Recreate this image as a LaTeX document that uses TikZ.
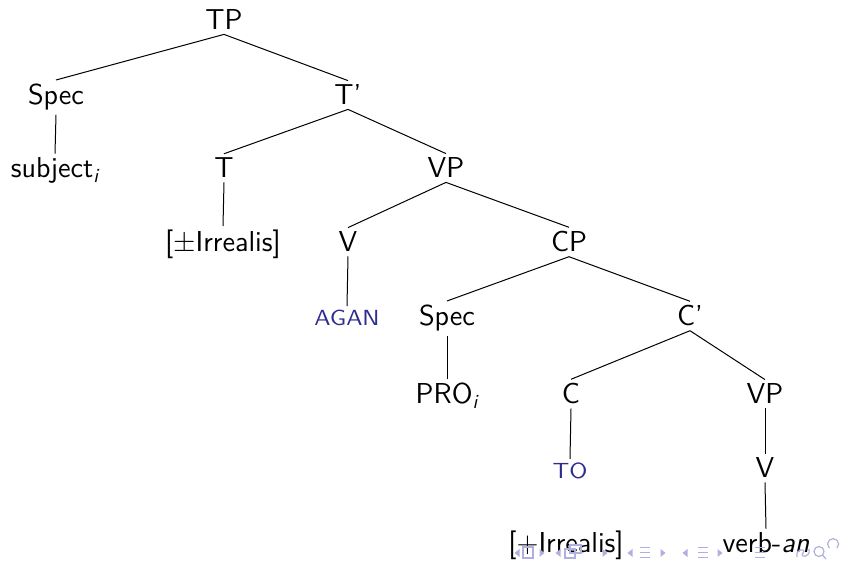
\documentclass[tikz,border=0pt]{standalone}
\usepackage{graphicx}
\definecolor{navcol}{RGB}{176,176,224}
\definecolor{structblue}{RGB}{45,45,145}
\begin{document}
\begin{tikzpicture}[x=0.5pt,y=-0.5pt,
  every node/.style={font=\fontsize{14.4}{17}\selectfont\sffamily, inner sep=2pt, anchor=base},
  edge/.style={line width=0.5pt},
  smallcap/.style={text=structblue},
  navfill/.style={fill=navcol, draw=none},
  navline/.style={draw=navcol, line width=0.6pt}]
\useasboundingbox (0,0) rectangle (848,561);
% tree nodes
\node (TP) at (224,30) {TP};
\node (Spec1) at (56,105) {Spec};
\node (Tbar) at (348,105) {T'};
\node (subj) at (55,178) {subject\textsubscript{\itshape i}};
\node (T) at (224,178) {T};
\node (VP1) at (446,178) {VP};
\node (Irr1) at (223,252) {[$\pm$Irrealis]};
\node (V1) at (348,252) {V};
\node (CP) at (569,252) {CP};
\node[smallcap] (AGAN) at (347,326) {\scalebox{0.87}[0.76]{AGAN}};
\node (Spec2) at (447,326) {Spec};
\node (Cbar) at (690,326) {C'};
\node (PRO) at (447,404) {PRO\textsubscript{\itshape i}};
\node (C) at (571,404) {C};
\node (VP2) at (765,404) {VP};
\node[smallcap] (TO) at (570,479) {\scalebox{0.87}[0.76]{TO}};
\node (V2) at (765,478) {V};
\node (Irr2) at (566,553) {[$+$Irrealis]};
\node (verb) at (766,553) {verb-\textit{an}};
% edges
\draw[edge] (TP.south) -- (Spec1.north);
\draw[edge] (TP.south) -- (Tbar.north);
\draw[edge] (Spec1.south) -- (subj.north);
\draw[edge] (Tbar.south) -- (T.north);
\draw[edge] (Tbar.south) -- (VP1.north);
\draw[edge] (T.south) -- (Irr1.north);
\draw[edge] (VP1.south) -- (V1.north);
\draw[edge] (VP1.south) -- (CP.north);
\draw[edge] (V1.south) -- (AGAN.north);
\draw[edge] (CP.south) -- (Spec2.north);
\draw[edge] (CP.south) -- (Cbar.north);
\draw[edge] (Spec2.south) -- (PRO.north);
\draw[edge] (Cbar.south) -- (C.north);
\draw[edge] (Cbar.south) -- (VP2.north);
\draw[edge] (C.south) -- (TO.north);
\draw[edge] (VP2.south) -- (V2.north);
\draw[edge] (V2.south) -- (verb.north);
% navigation symbols
\foreach \x in {517,558,630,685} {\fill[navfill] (\x+2.5,549) -- (\x-2.5,553) -- (\x+2.5,557) -- cycle;}
\foreach \x in {542,605,663,720} {\fill[navfill] (\x-2.5,549) -- (\x+2.5,553) -- (\x-2.5,557) -- cycle;}
\draw[navline] (523,547) rectangle (533,558);
\draw[navline] (565,549) rectangle (575,558);
\draw[navline] (570,545) rectangle (581,553);
\foreach \x in {645,703,760} {\foreach \yy in {547.5,552.5,557.5} {\draw[navline] (\x-5,\yy) -- (\x+5,\yy);}}
\draw[navline] (797,557) .. controls (795,548) and (807,548) .. (803,553) .. controls (799,558) and (811,558) .. (809,549);
\draw[navline] (819,551.5) circle (5);
\draw[navline] (822.5,555) -- (826,559);
\draw[navline] (837,548) arc (45:-225:5.5);
\end{tikzpicture}
\end{document}
